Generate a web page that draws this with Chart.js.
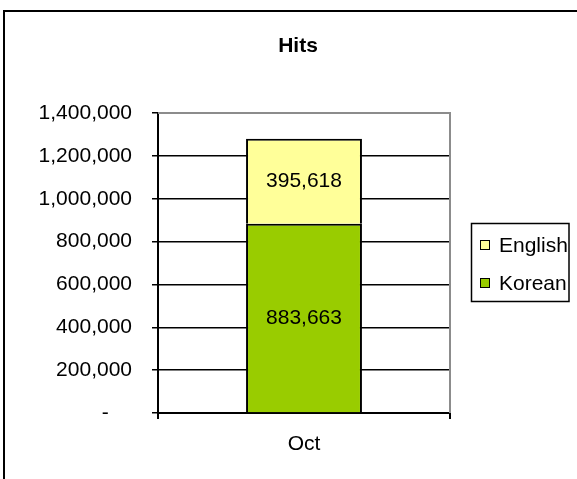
<!DOCTYPE html>
<html>
<head>
<meta charset="utf-8">
<script src="https://cdn.jsdelivr.net/npm/chart.js@4/dist/chart.umd.min.js"></script>
<style>
  body { margin: 0; background: #fff; }
  canvas { display: block; }
</style>
</head>
<body>
<canvas id="hitsChart" width="577" height="479"></canvas>
<script>
// Chart data
const categories = ['Oct'];
const seriesNames = ['Korean', 'English'];
const koreanHits = [883663];
const englishHits = [395618];
const seriesColors = ['#99CC00', '#FFFF99'];
const yMin = 0;
const yMax = 1400000;
const yStep = 200000;

const fontFamily = '"Liberation Sans", Arial, sans-serif';

// number like Excel's accounting format, zero is a dash
function fmt(v) {
    if (v === 0) return '-    ';
    return v.toLocaleString('en-US');
}

// Border of the whole chart, gray plot border, value labels and the boxed legend
const decorations = {
    id: 'decorations',
    beforeDraw: function (chart) {
        const c = chart.ctx;
        c.save();
        c.fillStyle = '#fff';
        c.fillRect(0, 0, chart.width, chart.height);
        c.restore();
    },
    beforeDatasetsDraw: function (chart) {
        const c = chart.ctx;
        const a = chart.chartArea;
        c.save();
        c.strokeStyle = '#8c8c8c';
        c.lineWidth = 2;
        c.beginPath();
        c.moveTo(a.left, a.top);
        c.lineTo(a.right, a.top);
        c.lineTo(a.right, a.bottom);
        c.stroke();
        c.restore();
    },
    afterDatasetsDraw: function (chart) {
        const c = chart.ctx;
        c.save();
        c.font = '21px ' + fontFamily;
        c.fillStyle = '#000';
        c.textAlign = 'center';
        c.textBaseline = 'middle';
        chart.data.datasets.forEach(function (ds, i) {
            chart.getDatasetMeta(i).data.forEach(function (bar, j) {
                const p = bar.getCenterPoint();
                c.fillText(fmt(ds.data[j]), p.x, p.y);
            });
        });
        c.restore();
    },
    afterDraw: function (chart) {
        const c = chart.ctx;
        c.save();
        // outer chart border (left and top only are in the picture)
        c.strokeStyle = '#000';
        c.lineWidth = 2;
        c.beginPath();
        c.moveTo(4, chart.height + 2);
        c.lineTo(4, 11);
        c.lineTo(chart.width + 2, 11);
        c.stroke();

        // legend box
        c.lineWidth = 1.5;
        c.strokeRect(471.5, 223.5, 97.5, 78);
        c.font = '21px ' + fontFamily;
        c.textAlign = 'left';
        c.textBaseline = 'middle';
        const order = [1, 0];
        order.forEach(function (di, k) {
            const ds = chart.data.datasets[di];
            const y = 245 + k * 38;
            c.fillStyle = ds.backgroundColor;
            c.fillRect(480, y - 5, 10, 10);
            c.lineWidth = 1;
            c.strokeStyle = '#000';
            c.strokeRect(480.5, y - 4.5, 9, 9);
            c.fillStyle = '#000';
            c.fillText(ds.label, 499, y + 1);
        });
        c.restore();
    }
};

const ctx = document.getElementById('hitsChart').getContext('2d');
const hitsChart = new Chart(ctx, {
    type: 'bar',
    data: {
        labels: categories,
        datasets: [{
            label: seriesNames[0],
            data: koreanHits,
            backgroundColor: seriesColors[0],
            borderColor: '#000',
            borderWidth: 2
        }, {
            label: seriesNames[1],
            data: englishHits,
            backgroundColor: seriesColors[1],
            borderColor: '#000',
            borderWidth: 2
        }]
    },
    options: {
        responsive: false,
        animation: false,
        devicePixelRatio: 1,
        layout: { padding: { left: 19, right: 0, top: 0, bottom: 0 } },
        datasets: {
            bar: { barPercentage: 0.397, categoryPercentage: 1 }
        },
        plugins: {
            legend: { display: false },
            tooltip: { enabled: false },
            title: {
                display: true,
                text: 'Hits',
                color: '#000',
                font: { family: fontFamily, size: 21, weight: 'bold' },
                padding: { top: 33.4, bottom: 54.4 }
            }
        },
        scales: {
            x: {
                stacked: true,
                afterFit: function (s) { s.height = 66; },
                grid: {
                    offset: true,
                    drawOnChartArea: false,
                    drawTicks: true,
                    tickLength: 6,
                    color: '#000',
                    lineWidth: 2
                },
                border: { display: true, color: '#000', width: 2 },
                ticks: {
                    color: '#000',
                    padding: 13,
                    font: { family: fontFamily, size: 21 }
                }
            },
            y: {
                stacked: true,
                min: yMin,
                max: yMax,
                afterFit: function (s) { s.width = 139; },
                grid: {
                    color: function (c) {
                        return c.tick && c.tick.value === yMax ? 'rgba(0,0,0,0)' : '#000';
                    },
                    tickColor: '#000',
                    lineWidth: 1.5,
                    tickLength: 6
                },
                border: { display: true, color: '#000', width: 2 },
                ticks: {
                    stepSize: yStep,
                    color: '#000',
                    padding: 20,
                    font: { family: fontFamily, size: 21 }
                    ,
                    callback: function (v) { return fmt(v); }
                }
            },
            // empty strip on the right that keeps room for the legend
            legendSpace: {
                position: 'right',
                grid: { display: false, drawTicks: false },
                border: { display: false },
                ticks: { display: false },
                afterFit: function (s) { s.width = 127; }
            }
        }
    },
    plugins: [decorations]
});
</script>
</body>
</html>
